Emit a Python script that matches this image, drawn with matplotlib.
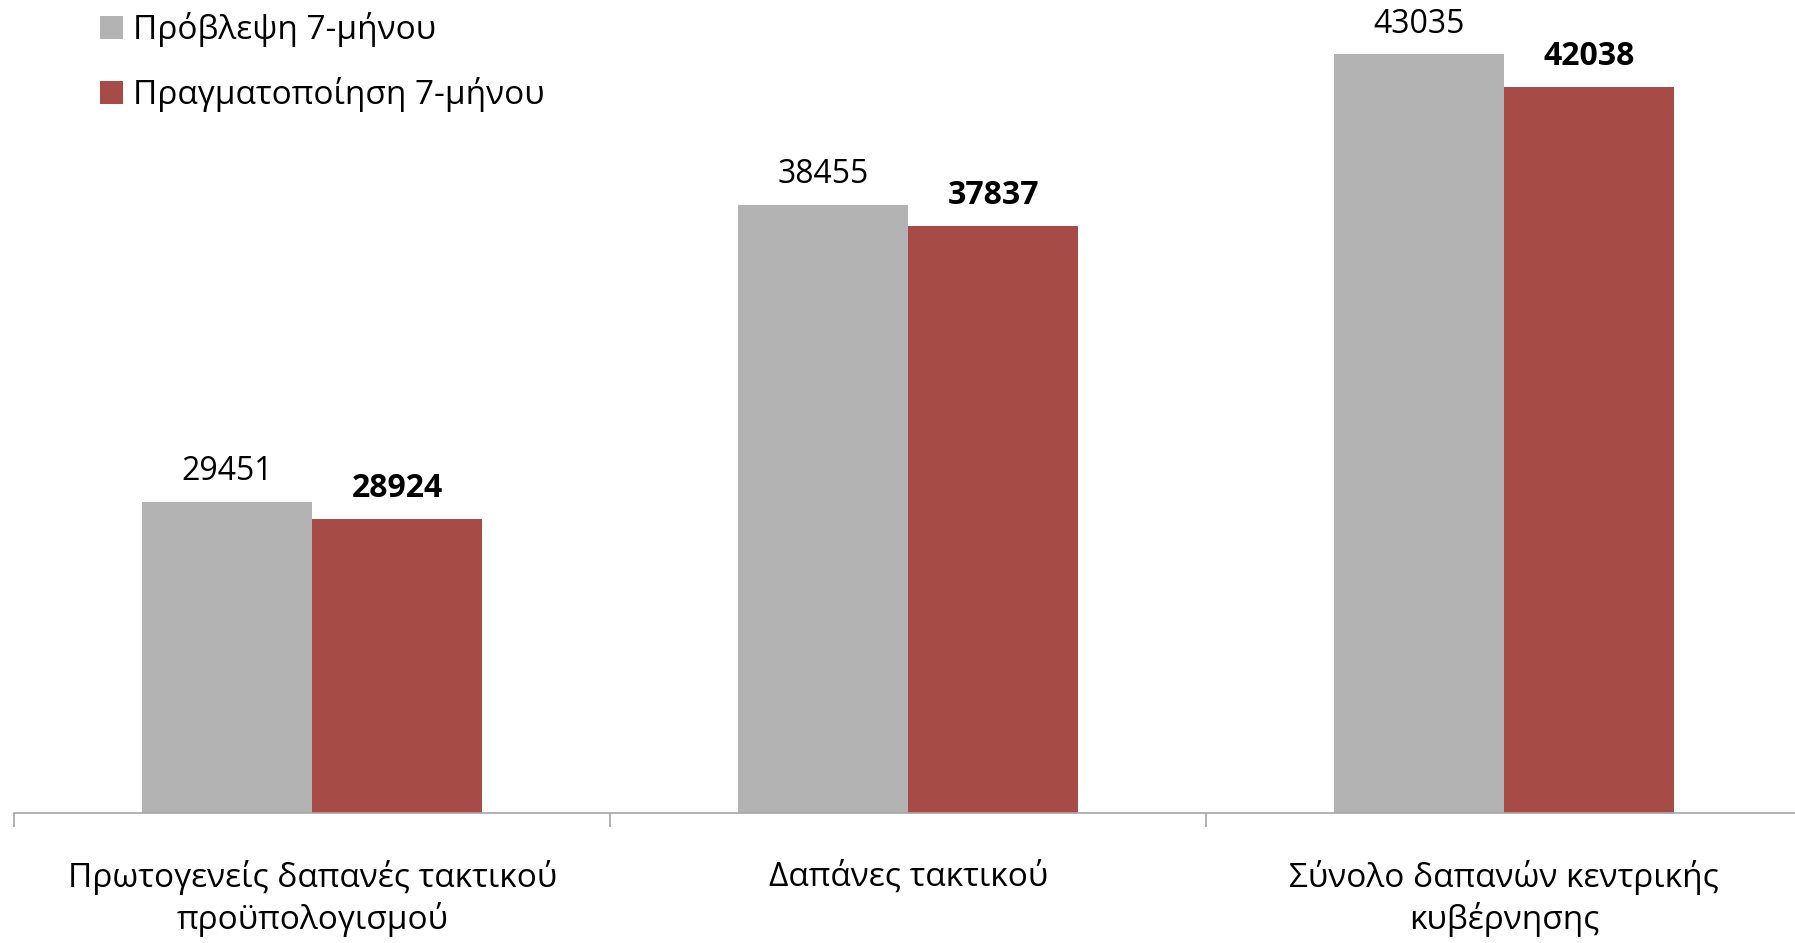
import matplotlib.pyplot as plt
import numpy as np

plt.rcParams['font.family'] = ['Open Sans', 'Noto Sans', 'DejaVu Sans']

categories = ['Πρωτογενείς δαπανές τακτικού\nπροϋπολογισμού',
              'Δαπάνες τακτικού',
              'Σύνολο δαπανών κεντρικής\nκυβέρνησης']
forecast = [29451, 38455, 43035]
actual = [28924, 37837, 42038]
series_names = ['Πρόβλεψη 7-μήνου', 'Πραγματοποίηση 7-μήνου']

gray = '#b3b3b3'
red = '#a64b46'
axis_col = '#a6a6a6'

fig = plt.figure(figsize=(17.95, 9.43), dpi=100)
ax = fig.add_axes([0.008, 0.138, 0.996, 0.838])

x = np.arange(len(categories))
w = 0.285
b1 = ax.bar(x - w / 2, forecast, w, color=gray, label=series_names[0])
b2 = ax.bar(x + w / 2, actual, w, color=red, label=series_names[1])

ax.set_ylim(20000, 44000)
ax.set_xlim(-0.5, 2.5)

for rect, v in zip(b1, forecast):
    ax.annotate(str(v), (rect.get_x() + rect.get_width() / 2, v),
                xytext=(0, 10), textcoords='offset points',
                ha='center', va='bottom', fontsize=23)
for rect, v in zip(b2, actual):
    ax.annotate(str(v), (rect.get_x() + rect.get_width() / 2, v),
                xytext=(0, 10), textcoords='offset points',
                ha='center', va='bottom', fontsize=23, fontweight='bold')

# boundary ticks (major) and centered labels (minor)
ax.set_xticks(np.arange(-0.5, 3.0, 1.0))
ax.set_xticklabels([])
ax.set_xticks(x, minor=True)
ax.set_xticklabels(categories, minor=True, fontsize=24, linespacing=1.25)
ax.tick_params(axis='x', which='major', length=10, width=1.2, color=axis_col)
ax.tick_params(axis='x', which='minor', length=0, pad=34)

ax.set_yticks([])
for s in ['left', 'right', 'top']:
    ax.spines[s].set_visible(False)
ax.spines['bottom'].set_color(axis_col)
ax.spines['bottom'].set_linewidth(1.2)

fig.legend(loc='upper left', bbox_to_anchor=(0.039, 1.019), frameon=False,
           fontsize=24, handlelength=0.68, handleheight=0.68,
           handletextpad=0.3, labelspacing=0.9)

fig.savefig('out.png', dpi=100)
